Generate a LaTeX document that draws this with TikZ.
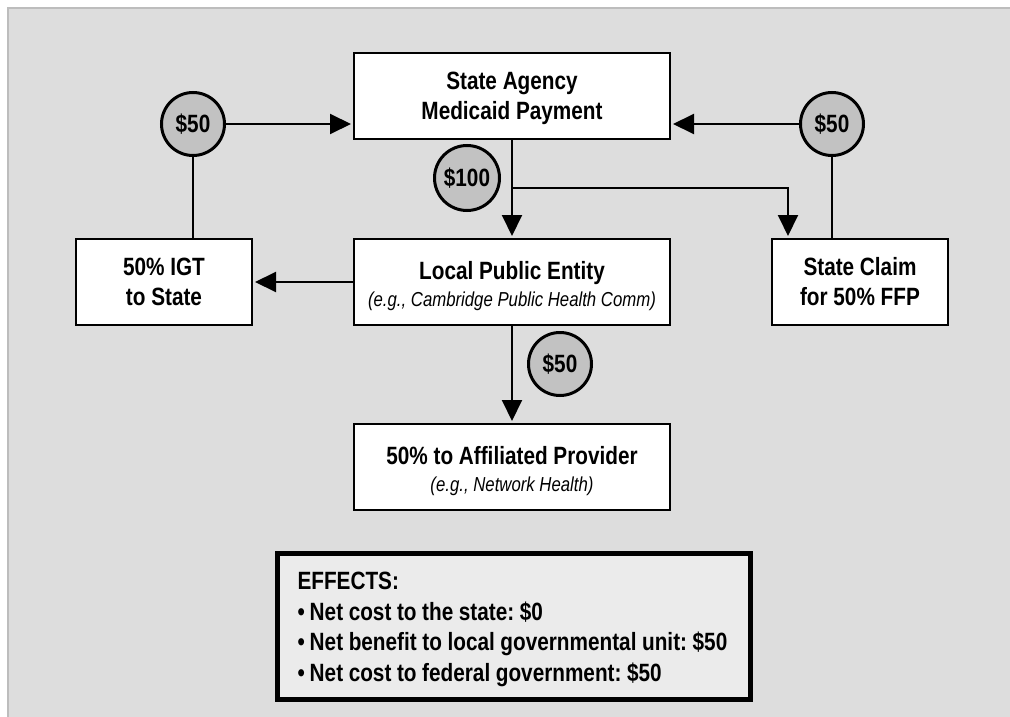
\documentclass[tikz,border=0pt]{standalone}
\usepackage{fontspec}
\setmainfont{Liberation Sans}[FakeStretch=0.83]
\usetikzlibrary{arrows.meta}
\definecolor{panel}{HTML}{DDDDDD}
\definecolor{panelline}{HTML}{BDBDBD}
\definecolor{coin}{HTML}{C2C2C2}
\definecolor{effbg}{HTML}{EBEBEB}
\newcommand{\effspace}{\spaceskip 5.6pt\relax}
\tikzset{
  box/.style={draw=black, line width=2pt, fill=white, minimum width=316pt, minimum height=86pt,
    inner sep=0pt, align=center, font=\bfseries\fontsize{25}{30}\selectfont},
  sbox/.style={box, minimum width=176pt},
  coinnode/.style={circle, draw=black, line width=3pt, fill=coin, minimum size=63pt, inner sep=0pt,
    font=\bfseries\fontsize{25}{26}\selectfont},
  arr/.style={line width=2pt, -{Triangle[length=21pt,width=20pt]}, shorten >=2pt},
  plain/.style={line width=2pt},
  effbox/.style={draw=black, line width=5pt, fill=effbg, minimum width=473pt, minimum height=146pt,
    inner xsep=20pt, inner ysep=0pt, text width=433pt, align=left,
    font=\bfseries\fontsize{25}{30.5}\selectfont},
}
\newcommand{\egtext}[1]{{\fontsize{20.2}{22}\selectfont\mdseries\itshape #1}}
\newcommand{\twolines}[2]{\rule{0pt}{24pt}#1\\#2\rule[-6.8pt]{0pt}{6.8pt}}
\newcommand{\twoeg}[2]{\rule{0pt}{27.6pt}#1\\[-3.6pt]\egtext{#2}\rule[-6pt]{0pt}{6pt}}
\newcommand{\effbullet}{\textbullet\hspace{5pt}}
\begin{document}
\frenchspacing
\begin{tikzpicture}[x=1pt,y=-1pt]
\useasboundingbox (0,0) rectangle (1010,717);
\fill[white] (0,0) rectangle (1010,717);
\fill[panel] (8,8) rectangle (1010,717);
\draw[panelline, line width=1.2pt] (8,717) -- (8,8) -- (1010,8);

\node[box] (sa) at (512,96) {\twolines{State Agency}{Medicaid Payment}};
\node[box] (lpe) at (512,282) {\twoeg{Local Public Entity}{(e.g., Cambridge Public Health Comm)}};
\node[sbox] (igt) at (164,282) {\twolines{50\% IGT}{to State}};
\node[sbox] (claim) at (860,282) {\twolines{State Claim}{for 50\% FFP}};
\node[box] (aff) at (512,467) {\twoeg{50\% to Affiliated Provider}{(e.g., Network Health)}};

\node[coinnode] (cL) at (193,124) {\$50};
\node[coinnode] (cR) at (832,124) {\$50};
\node[coinnode, minimum size=65pt] (cM) at (467,178) {\$100};
\node[coinnode] (cB) at (560,364) {\$50};

\coordinate (br) at (512,188);
\coordinate (clin) at ([xshift=17pt]claim.north west);

\draw[arr] (cL) -- (cL -| sa.west);
\draw[plain] (cL) -- (cL |- igt.north);
\draw[arr] (cR) -- (cR -| sa.east);
\draw[plain] (cR) -- (cR |- claim.north);
\draw[arr] (sa) -- (lpe);
\draw[arr] (br) -| (clin);
\draw[arr] (lpe) -- (igt);
\draw[arr] (lpe) -- (aff);

\node[effbox] (eff) at (514,626.5) {\effspace\rule{0pt}{23.5pt}EFFECTS:\\
\effbullet Net cost to the state: \$0\\
\effbullet Net benefit to local governmental unit: \$50\\
\effbullet Net cost to federal government: \$50\rule[-6pt]{0pt}{6pt}};
\end{tikzpicture}
\end{document}
